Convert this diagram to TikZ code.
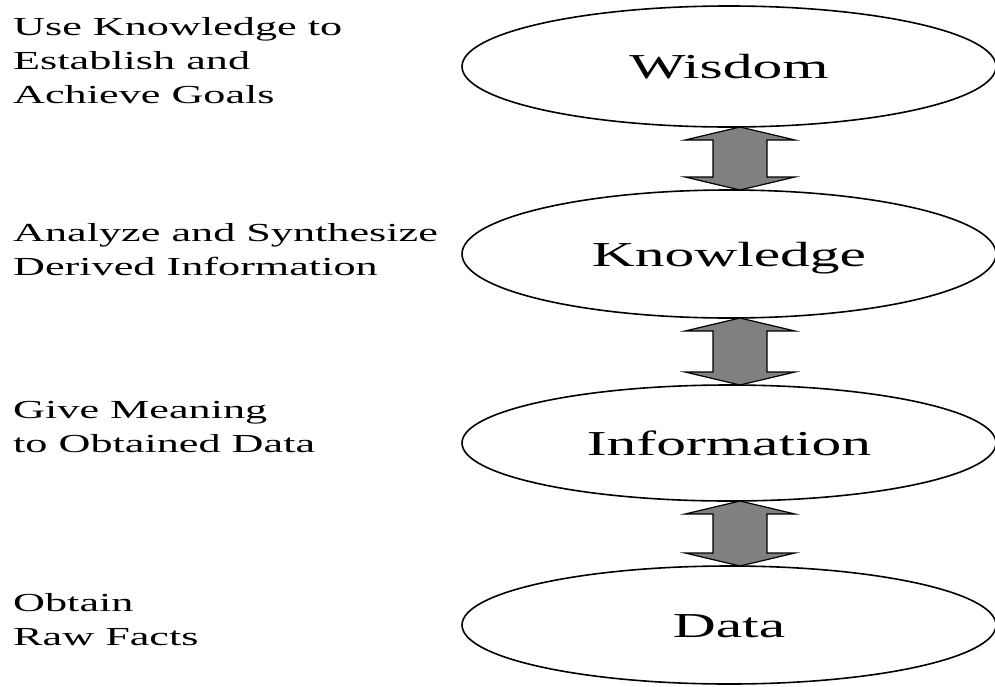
\documentclass[tikz,border=0pt]{standalone}
\usepackage{fontspec}
\setmainfont{Liberation Serif}[FakeStretch=1.7]
\usepackage{tikz}
\usetikzlibrary{shapes, calc, positioning}
\tikzstyle{level} = [ellipse, draw, line width=1.6pt, minimum width=534pt,
    inner sep=0pt, outer sep=0pt, text height=24pt, text depth=0pt,
    font=\fontsize{35}{42}\selectfont]
\tikzstyle{note} = [anchor=north west, align=left, inner sep=0pt,
    font=\fontsize{26}{34}\selectfont]
\tikzstyle{updown} = [draw, line width=1.2pt, fill=gray]

\newcommand{\linkarrow}[2]{%
  \path[updown] ($(#1.south)+(11,0)$) -- ++(55,-13) -- ++(-28,0)
    -- ($(#2.north)+(38,13)$) -- ++(28,0) -- ($(#2.north)+(11,0)$)
    -- ++(-55,13) -- ++(28,0) -- ($(#1.south)+(-16,-13)$) -- ++(-28,0) -- cycle;}

\begin{document}
\begin{tikzpicture}[x=1pt, y=1pt, node distance=63pt]
    \useasboundingbox (0,0) rectangle (995,-686);

    \node[level, minimum height=121pt] (wisdom) at (729,-66.5) {Wisdom};
    \node[level, minimum height=128pt, below=63pt of wisdom] (knowledge) {Knowledge};
    \node[level, minimum height=116pt, below=67pt of knowledge] (information) {Information};
    \node[level, minimum height=118pt, below=65pt of information] (data) {Data};

    \node[note] (goals) at (13,-17) {Use Knowledge to\\Establish and\\Achieve Goals};
    \node[note] (derive) at (13,-223) {Analyze and Synthesize\\Derived Information};
    \node[note] (meaning) at (13,-401) {Give Meaning\\to Obtained Data};
    \node[note] (facts) at (13,-593) {Obtain\\Raw Facts};

    \linkarrow{wisdom}{knowledge}
    \linkarrow{knowledge}{information}
    \linkarrow{information}{data}
\end{tikzpicture}
\end{document}
